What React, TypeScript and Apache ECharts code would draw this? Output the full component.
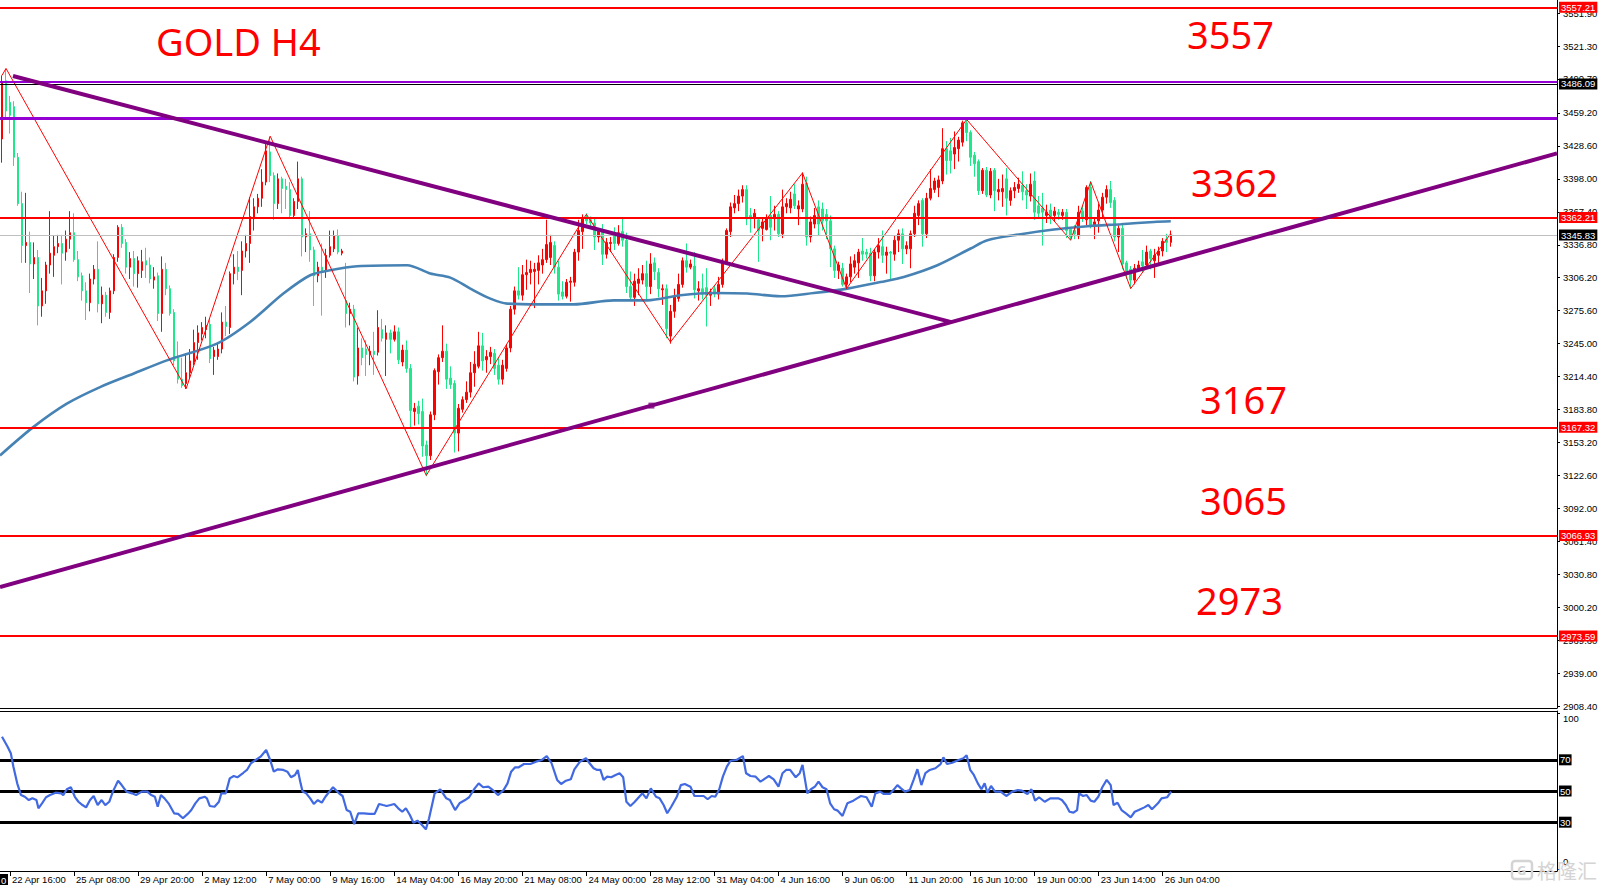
import React, { useEffect, useRef } from "react";
import * as echarts from "echarts";

// ---------- DATA ----------
// H4 bars, index 0..292 (4 px per bar). Bullish candles red, bearish green (as in the source chart).
const opens = [
  3435, 3489, 3469, 3465, 3418, 3375, 3336, 3339, 3319, 3325,
  3280, 3294, 3318, 3327, 3335, 3338, 3330, 3342, 3348, 3323,
  3308, 3294, 3283, 3305, 3314, 3282, 3290, 3274, 3294, 3325,
  3353, 3339, 3316, 3324, 3310, 3313, 3322, 3318, 3304, 3308,
  3273, 3314, 3296, 3274, 3232, 3212, 3208, 3218, 3228, 3246,
  3254, 3258, 3263, 3233, 3233, 3240, 3265, 3260, 3310, 3316,
  3313, 3331, 3338, 3361, 3372, 3380, 3395, 3423, 3401, 3375,
  3398, 3391, 3388, 3364, 3377, 3398, 3344, 3347, 3332, 3308,
  3316, 3312, 3327, 3333, 3345, 3329, 3285, 3273, 3277, 3215,
  3241, 3240, 3235, 3238, 3237, 3258, 3249, 3255, 3249, 3256,
  3228, 3239, 3222, 3182, 3187, 3182, 3151, 3141, 3179, 3219,
  3232, 3238, 3213, 3208, 3162, 3184, 3193, 3200, 3218, 3224,
  3243, 3230, 3233, 3236, 3225, 3212, 3222, 3241, 3277, 3294,
  3290, 3309, 3311, 3312, 3313, 3318, 3323, 3325, 3336, 3316,
  3293, 3289, 3302, 3302, 3330, 3349, 3362, 3360, 3357, 3344,
  3349, 3328, 3338, 3347, 3338, 3349, 3341, 3298, 3288, 3301,
  3304, 3310, 3298, 3320, 3311, 3295, 3296, 3252, 3275, 3287,
  3300, 3322, 3316, 3317, 3294, 3296, 3297, 3290, 3296, 3291,
  3300, 3321, 3349, 3371, 3375, 3382, 3388, 3364, 3362, 3360,
  3352, 3351, 3364, 3361, 3365, 3347, 3372, 3371, 3384, 3370,
  3370, 3394, 3344, 3356, 3372, 3370, 3365, 3359, 3333, 3313,
  3315, 3300, 3307, 3316, 3320, 3331, 3330, 3329, 3308, 3330,
  3335, 3327, 3330, 3328, 3341, 3347, 3333, 3333, 3347, 3364,
  3378, 3347, 3380, 3388, 3390, 3396, 3426, 3424, 3421, 3426,
  3432, 3450, 3441, 3420, 3414, 3387, 3406, 3383, 3406, 3386,
  3386, 3398, 3378, 3387, 3389, 3392, 3387, 3382, 3396, 3373,
  3371, 3364, 3369, 3364, 3367, 3364, 3367, 3351, 3350, 3345,
  3368, 3360, 3390, 3355, 3359, 3369, 3381, 3388, 3378, 3344,
  3352, 3320, 3314, 3304, 3315, 3321, 3318, 3331, 3322, 3327,
  3331, 3342, 3339,
];
const closes = [
  3488, 3461, 3457, 3418, 3375, 3336, 3339, 3319, 3325, 3280,
  3294, 3318, 3329, 3335, 3338, 3329, 3342, 3348, 3323, 3307,
  3294, 3283, 3305, 3314, 3282, 3290, 3274, 3294, 3325, 3353,
  3338, 3316, 3324, 3310, 3322, 3321, 3318, 3305, 3307, 3273,
  3314, 3296, 3273, 3229, 3212, 3206, 3218, 3229, 3246, 3255,
  3260, 3262, 3231, 3239, 3240, 3265, 3261, 3310, 3316, 3312,
  3331, 3338, 3363, 3372, 3380, 3395, 3424, 3401, 3375, 3398,
  3389, 3388, 3364, 3377, 3398, 3344, 3347, 3332, 3308, 3316,
  3312, 3327, 3335, 3345, 3330, 3331, 3273, 3277, 3214, 3241,
  3232, 3235, 3238, 3235, 3260, 3250, 3255, 3249, 3256, 3230,
  3239, 3222, 3183, 3185, 3180, 3150, 3141, 3179, 3220, 3232,
  3238, 3212, 3207, 3162, 3185, 3193, 3200, 3218, 3226, 3243,
  3229, 3233, 3237, 3222, 3212, 3225, 3241, 3277, 3294, 3290,
  3309, 3311, 3314, 3314, 3320, 3323, 3337, 3339, 3316, 3291,
  3289, 3302, 3303, 3330, 3350, 3361, 3359, 3357, 3344, 3349,
  3328, 3339, 3339, 3338, 3348, 3341, 3298, 3288, 3303, 3305,
  3310, 3298, 3319, 3312, 3296, 3296, 3259, 3275, 3289, 3300,
  3322, 3316, 3319, 3295, 3296, 3291, 3290, 3293, 3291, 3300,
  3321, 3350, 3372, 3375, 3382, 3388, 3361, 3361, 3366, 3350,
  3358, 3362, 3353, 3365, 3347, 3372, 3375, 3379, 3373, 3373,
  3393, 3344, 3358, 3364, 3356, 3359, 3359, 3333, 3313, 3318,
  3300, 3307, 3319, 3322, 3330, 3328, 3328, 3308, 3330, 3336,
  3327, 3330, 3329, 3341, 3347, 3333, 3336, 3347, 3366, 3375,
  3347, 3380, 3389, 3396, 3397, 3426, 3415, 3415, 3427, 3434,
  3450, 3441, 3418, 3412, 3387, 3406, 3383, 3405, 3387, 3388,
  3389, 3380, 3387, 3390, 3393, 3386, 3383, 3393, 3367, 3366,
  3367, 3367, 3361, 3368, 3365, 3367, 3350, 3344, 3347, 3367,
  3362, 3390, 3355, 3358, 3369, 3381, 3388, 3376, 3344, 3352,
  3319, 3312, 3304, 3315, 3318, 3317, 3330, 3324, 3327, 3331,
  3340, 3339, 3346,
];
const lows = [
  3413, 3455, 3440, 3410, 3373, 3320, 3320, 3292, 3305, 3262,
  3270, 3282, 3310, 3307, 3329, 3300, 3322, 3333, 3321, 3303,
  3285, 3267, 3275, 3300, 3274, 3264, 3270, 3268, 3291, 3321,
  3334, 3310, 3305, 3298, 3297, 3306, 3306, 3301, 3296, 3266,
  3256, 3290, 3271, 3225, 3208, 3204, 3203, 3212, 3225, 3230,
  3248, 3250, 3227, 3216, 3230, 3236, 3252, 3254, 3300, 3304,
  3290, 3325, 3320, 3350, 3366, 3372, 3392, 3395, 3360, 3370,
  3366, 3370, 3362, 3362, 3370, 3326, 3330, 3321, 3280, 3302,
  3271, 3306, 3325, 3330, 3328, 3327, 3260, 3262, 3210, 3207,
  3225, 3215, 3225, 3216, 3234, 3247, 3215, 3236, 3247, 3226,
  3224, 3218, 3166, 3169, 3170, 3140, 3122, 3137, 3174, 3207,
  3228, 3203, 3203, 3144, 3145, 3181, 3190, 3195, 3205, 3222,
  3220, 3218, 3226, 3216, 3207, 3207, 3219, 3237, 3272, 3286,
  3285, 3295, 3300, 3278, 3300, 3310, 3320, 3318, 3310, 3285,
  3286, 3287, 3284, 3298, 3322, 3333, 3356, 3354, 3332, 3339,
  3318, 3324, 3330, 3332, 3336, 3335, 3292, 3285, 3280, 3290,
  3300, 3286, 3291, 3304, 3288, 3281, 3250, 3245, 3269, 3284,
  3297, 3311, 3314, 3287, 3285, 3286, 3261, 3280, 3288, 3286,
  3297, 3318, 3344, 3366, 3368, 3376, 3355, 3348, 3352, 3321,
  3340, 3350, 3341, 3350, 3344, 3343, 3366, 3366, 3370, 3355,
  3367, 3336, 3339, 3352, 3345, 3350, 3342, 3316, 3306, 3305,
  3298, 3296, 3302, 3310, 3306, 3322, 3324, 3303, 3303, 3324,
  3320, 3310, 3304, 3322, 3330, 3319, 3328, 3315, 3344, 3355,
  3335, 3343, 3378, 3385, 3381, 3393, 3402, 3403, 3407, 3414,
  3428, 3433, 3410, 3400, 3383, 3384, 3381, 3380, 3368, 3378,
  3372, 3364, 3373, 3380, 3385, 3378, 3370, 3377, 3360, 3362,
  3336, 3357, 3356, 3358, 3360, 3360, 3343, 3341, 3342, 3342,
  3358, 3355, 3352, 3342, 3348, 3362, 3375, 3371, 3340, 3330,
  3314, 3305, 3296, 3300, 3312, 3311, 3315, 3314, 3306, 3320,
  3326, 3330, 3335,
];
const highs = [
  3494, 3500, 3475, 3470, 3422, 3386, 3385, 3349, 3339, 3332,
  3306, 3321, 3368, 3345, 3346, 3346, 3350, 3368, 3366, 3331,
  3311, 3302, 3310, 3318, 3340, 3298, 3293, 3297, 3328, 3355,
  3356, 3342, 3330, 3331, 3326, 3332, 3334, 3325, 3316, 3311,
  3326, 3320, 3299, 3277, 3247, 3232, 3236, 3240, 3258, 3262,
  3265, 3270, 3268, 3242, 3245, 3274, 3280, 3312, 3328, 3331,
  3340, 3346, 3381, 3380, 3384, 3407, 3433, 3437, 3404, 3403,
  3400, 3398, 3395, 3380, 3414, 3400, 3352, 3368, 3335, 3321,
  3338, 3333, 3350, 3350, 3351, 3333, 3320, 3283, 3281, 3260,
  3250, 3248, 3243, 3256, 3276, 3268, 3262, 3258, 3262, 3260,
  3244, 3248, 3226, 3190, 3192, 3194, 3155, 3182, 3222, 3235,
  3262, 3245, 3224, 3211, 3189, 3196, 3210, 3228, 3238, 3256,
  3255, 3239, 3242, 3240, 3232, 3230, 3244, 3280, 3298, 3316,
  3318, 3323, 3322, 3320, 3327, 3333, 3360, 3346, 3340, 3322,
  3303, 3305, 3307, 3333, 3360, 3365, 3366, 3363, 3362, 3352,
  3356, 3343, 3344, 3353, 3355, 3362, 3348, 3312, 3310, 3315,
  3318, 3322, 3329, 3325, 3315, 3300, 3300, 3281, 3296, 3310,
  3325, 3338, 3323, 3330, 3303, 3310, 3315, 3296, 3299, 3307,
  3324, 3352, 3376, 3383, 3388, 3392, 3392, 3371, 3370, 3362,
  3362, 3365, 3382, 3373, 3368, 3388, 3380, 3386, 3393, 3378,
  3404, 3400, 3363, 3371, 3378, 3376, 3370, 3364, 3336, 3321,
  3320, 3310, 3326, 3328, 3333, 3343, 3333, 3334, 3333, 3343,
  3350, 3335, 3331, 3345, 3351, 3352, 3340, 3350, 3373, 3378,
  3380, 3385, 3407, 3399, 3401, 3445, 3433, 3436, 3442, 3437,
  3452, 3454, 3443, 3423, 3416, 3408, 3409, 3408, 3408, 3398,
  3402, 3408, 3390, 3395, 3399, 3405, 3393, 3403, 3405, 3382,
  3385, 3374, 3375, 3372, 3370, 3370, 3370, 3353, 3355, 3373,
  3373, 3392, 3396, 3362, 3375, 3385, 3392, 3396, 3381, 3356,
  3356, 3322, 3317, 3319, 3322, 3332, 3336, 3333, 3333, 3335,
  3343, 3347, 3350,
];

// Moving average: [bar index, price]
const maPoints = [
  [-0.5, 3141.2], [7.8, 3167.5], [16.2, 3189.3], [24.5, 3204.7], [32.8, 3217.1],
  [41.2, 3229.5], [53.7, 3245.0], [62, 3265.1], [70.3, 3291.5], [77, 3308.5],
  [82, 3313.1], [88.7, 3316.8], [101.2, 3317.8], [107, 3310.1], [112, 3306.3],
  [117, 3296.1], [122, 3286.8], [126.2, 3282.2], [134.5, 3281.5], [142.8, 3281.5],
  [152.8, 3285.2], [161.2, 3285.2], [169.5, 3289.9], [177.8, 3292.0], [186.2, 3291.5],
  [194.5, 3289.0], [202.8, 3292.0], [211.2, 3296.1], [219.5, 3302.2], [225.3, 3306.9],
  [233.7, 3317.8], [242, 3333.3], [246.2, 3341.0], [254.5, 3346.6], [262.8, 3350.9],
  [271.2, 3354.0], [279.5, 3355.9], [287.8, 3358.0], [292, 3358.6],
];

// ZigZag vertices: [bar index, price]
const zigzag = [
  [0, 3494], [1, 3500.5], [46, 3203.2], [67, 3437.6], [106, 3122.7], [146, 3365.1],
  [167, 3246.5], [200, 3403.5], [211, 3296.1], [241, 3453.1], [267, 3341.0],
  [272, 3395.2], [282, 3296.1], [292, 3347.2],
];

// Trend lines: [bar index, price]
const downTrend = [[2.75, 3493.4], [237.2, 3265.0]];
const upTrend = [[-0.5, 3019.1], [388.5, 3421.6]];
const upTrendAnchor = [[162.25, 3187.5]];

// RSI: [bar index, value]
const rsiPoints = [
  [0, 84.8], [1.4, 78.4], [2.2, 74.2], [2.85, 65.6], [3.8, 54.9], [4.75, 47.4], [5.7, 46.3], [6.7, 44.2],
  [7.6, 45.3], [8.6, 44.2], [9.1, 38.9], [10, 42.1], [11, 46.0], [12, 47.4], [13.4, 48.9], [14.8, 48.5],
  [15.3, 47.4], [16.2, 51.1], [17.2, 52.4], [18.2, 46.3], [19.1, 43.1], [20.1, 41.0], [21, 39.5], [22, 44.2],
  [22.9, 46.8], [23.9, 41.0], [24.9, 44.2], [25.8, 41.0], [26.8, 43.1], [27.7, 49.6], [29, 56.6], [29.9, 53.8],
  [31.1, 49.6], [32.5, 48.5], [33.5, 47.4], [34.9, 49.6], [36.3, 49.6], [37.3, 47.4], [38.2, 46.3], [38.9, 39.9],
  [39.7, 47.4], [40.6, 45.3], [41.6, 42.1], [43, 35.7], [44, 35.3], [45.2, 32.5], [46.4, 35.3], [47.3, 37.8],
  [48.3, 42.1], [49.3, 45.3], [50.7, 46.3], [51.2, 45.3], [51.9, 40.4], [53.1, 39.9], [54.2, 43.1], [54.8, 48.5],
  [55.9, 48.5], [56.9, 58.1], [57.9, 59.6], [58.8, 58.8], [60.3, 61.7], [61.2, 63.5], [62.2, 67.8], [63.1, 69.4],
  [64.6, 72.0], [66, 76.3], [67, 69.9], [67.9, 62.4], [68.9, 63.9], [70.3, 63.5], [71.3, 62.4], [72.2, 58.8],
  [73.2, 60.3], [73.9, 63.5], [74.6, 54.9], [75.1, 49.6], [76, 48.5], [77, 45.3], [77.9, 41.7], [78.9, 44.2],
  [79.9, 42.5], [80.8, 46.3], [81.8, 49.6], [82.7, 52.4], [84.2, 48.5], [85.1, 46.8], [86.1, 37.8], [87, 36.7],
  [88, 28.8], [89, 35.7], [90.4, 35.7], [91.8, 35.3], [93.1, 35.3], [94.2, 41.7], [95.2, 41.0], [96.1, 40.4],
  [97.1, 41.0], [98, 41.7], [99, 38.9], [100, 36.7], [100.9, 38.9], [101.9, 34.6], [102.8, 29.7], [103.8, 31.0],
  [104.7, 28.8], [105.9, 25.4], [106.7, 32.5], [108.1, 48.5], [109.5, 51.1], [111, 45.3], [111.9, 44.2], [113.2, 37.8],
  [114.3, 42.1], [115.7, 44.2], [116.7, 46.0], [118.1, 51.7], [119.1, 54.9], [120.2, 52.4], [121.5, 52.8], [122.4, 51.1],
  [123.9, 47.4], [125.3, 50.6], [126.3, 54.9], [127.2, 62.4], [128.2, 65.2], [129.1, 65.2], [130.4, 67.3], [132, 67.3],
  [133.4, 68.8], [134.9, 69.9], [136.1, 72.4], [137.3, 67.8], [138.7, 57.1], [139.7, 54.5], [140.9, 56.6], [142.1, 57.5],
  [143, 63.9], [144.4, 68.8], [145.9, 71.0], [146.8, 67.8], [147.8, 64.6], [148.7, 63.5], [149.5, 63.5], [150.3, 57.1],
  [151.2, 59.2], [152.2, 58.8], [153.3, 60.3], [154.3, 61.4], [155.2, 58.8], [156, 43.1], [157, 40.4], [158.1, 43.1],
  [159.1, 46.0], [160, 48.5], [161, 45.3], [162.1, 51.7], [163.4, 46.3], [164.3, 45.3], [165.3, 41.0], [166.2, 35.7],
  [167.2, 39.9], [168.6, 46.3], [169.6, 53.8], [170.6, 54.5], [172, 52.8], [173, 46.8], [173.9, 46.8], [175.3, 46.8],
  [176.3, 44.7], [177.3, 46.8], [178.2, 46.3], [179.2, 51.1], [180.1, 59.2], [181.1, 65.6], [182, 69.4], [183.5, 69.9],
  [185.1, 72.4], [185.9, 61.4], [187, 59.6], [188.3, 59.2], [189.5, 56.0], [190.7, 58.1], [191.6, 59.6], [192.8, 57.5],
  [194, 52.8], [195, 61.4], [195.9, 63.5], [196.9, 63.5], [198.3, 58.8], [199.3, 61.4], [200, 66.7], [201.2, 48.5],
  [202.1, 51.1], [203.1, 52.8], [204, 56.0], [205, 52.4], [206, 51.1], [206.9, 42.1], [207.9, 38.3], [208.8, 37.4],
  [210, 34.0], [211.2, 42.1], [212.7, 43.8], [213.6, 45.3], [214.6, 46.8], [216, 46.0], [217.3, 39.9], [218.2, 48.5],
  [219.4, 49.6], [220.3, 48.1], [221.8, 48.1], [222.7, 50.6], [223.7, 53.8], [224.6, 51.7], [225.6, 49.6], [226.8, 50.6],
  [227.8, 57.5], [228.7, 64.0], [229.7, 53.8], [230.7, 61.4], [231.8, 63.5], [233.2, 64.6], [234.5, 67.3], [235.2, 71.6],
  [236.1, 67.3], [237.4, 68.1], [239, 69.9], [240.2, 71.0], [241, 72.9], [241.9, 63.5], [242.8, 60.3], [243.8, 54.9],
  [244.7, 51.1], [245.5, 54.9], [246.2, 48.9], [247.1, 53.2], [248.1, 49.6], [249.5, 49.6], [250.9, 46.8], [252.4, 49.6],
  [253.8, 50.6], [254.8, 50.2], [256.2, 48.1], [257.2, 51.1], [258.1, 43.8], [259.1, 46.0], [260.5, 43.1], [261.9, 45.3],
  [263.9, 45.3], [264.8, 44.2], [265.8, 41.0], [266.7, 36.7], [267.7, 36.1], [268.6, 37.8], [269.1, 48.5], [270.1, 46.8],
  [271, 47.4], [272, 43.8], [272.9, 43.1], [273.9, 46.3], [274.9, 52.4], [276, 57.1], [277, 53.8], [277.7, 41.0],
  [278.7, 42.5], [279.7, 37.8], [280.8, 35.7], [282, 33.1], [283, 36.7], [284, 37.8], [285.4, 39.5], [286.4, 41.0],
  [287.3, 38.3], [288.8, 42.1], [289.7, 45.3], [291.1, 46.0], [292.1, 49.6],
];

// Axis tick labels
const priceTicks = [
  2908.4, 2939.0, 2969.6, 3000.2, 3030.8, 3061.4, 3092.0, 3122.6, 3153.2, 3183.8, 3214.4,
  3245.0, 3275.6, 3306.2, 3336.8, 3367.4, 3398.0, 3428.6, 3459.2, 3490.7, 3521.3, 3551.9,
];
const xTickBars = [2, 18, 34, 50, 66, 82, 98, 114, 130, 146, 162, 178, 194, 210, 226, 242, 258, 274, 290];
const xTickLabels = [
  "22 Apr 16:00", "25 Apr 08:00", "29 Apr 20:00", "2 May 12:00", "7 May 00:00", "9 May 16:00",
  "14 May 04:00", "16 May 20:00", "21 May 08:00", "24 May 00:00", "28 May 12:00", "31 May 04:00",
  "4 Jun 16:00", "9 Jun 06:00", "11 Jun 20:00", "16 Jun 10:00", "19 Jun 00:00", "23 Jun 14:00", "26 Jun 04:00",
];
const rsiTicks = [0, 100];
const rsiLevels = [70, 50, 30];

// Horizontal levels
const redLevels = [3557.21, 3362.21, 3167.32, 3066.93, 2973.59];
const blackLevel = 3486.09;
const currentPrice = 3345.83;
const purpleLevels = [3488.3, 3454.6];
const levelTexts = ["3557", "3362", "3167", "3065", "2973"];
const titleText = "GOLD H4";

// ---------- CHART ----------
const X_MIN = -0.5;
const X_MAX = 388.5;
const P_MIN = 2906.8;
const P_MAX = 3564.0;
const UP = "#FF0000";
const DOWN = "#1DE88A";
const AXIS_FONT = "Liberation Sans";

export default function App() {
  const ref = useRef<HTMLDivElement>(null);

  useEffect(() => {
    if (!ref.current) return;
    const chart = echarts.init(ref.current, null, { renderer: "svg" });

    const candles = opens.map((o, i) => [i, o, closes[i], lows[i], highs[i]]);

    const lineLabel = (bg: string) => ({
      show: true,
      position: "end",
      distance: 2,
      color: "#fff",
      backgroundColor: bg,
      fontFamily: AXIS_FONT,
      fontSize: 9.5,
      padding: [1, 2, 0, 2],
      formatter: (p: any) => Number(p.value).toFixed(2),
    });

    const priceMarks: any[] = [];
    purpleLevels.forEach((v, k) =>
      priceMarks.push({
        yAxis: v,
        lineStyle: { color: "#9400D3", width: k === 0 ? 2 : 3, type: "solid" },
        label: { show: false },
      })
    );
    priceMarks.push({
      yAxis: blackLevel,
      lineStyle: { color: "#000", width: 1.2, type: "solid" },
      label: lineLabel("#000"),
    });
    priceMarks.push({
      yAxis: currentPrice,
      lineStyle: { color: "#C0C0C0", width: 1, type: "solid" },
      label: lineLabel("#000"),
    });
    redLevels.forEach((v) =>
      priceMarks.push({
        yAxis: v,
        lineStyle: { color: "#FF0000", width: 2, type: "solid" },
        label: lineLabel("#FF0000"),
      })
    );

    const textPos = [
      [1187, 34],
      [1191, 182],
      [1200, 399],
      [1200, 500],
      [1196, 600],
    ];

    const graphics: any[] = [
      {
        type: "text",
        x: 156,
        y: 41,
        z: 100,
        style: {
          text: titleText,
          fill: "#FF0000",
          fontSize: 38,
          fontFamily: "Noto Sans",
          verticalAlign: "middle",
        },
      },
      ...levelTexts.map((t, i) => ({
        type: "text",
        x: textPos[i][0],
        y: textPos[i][1],
        z: 100,
        style: {
          text: t,
          fill: "#FF0000",
          fontSize: 38,
          fontFamily: "Noto Sans",
          verticalAlign: "middle",
        },
      })),
      {
        type: "rect",
        shape: { x: 0, y: 874, width: 8, height: 11 },
        style: { fill: "#000" },
        z: 100,
      },
      {
        type: "text",
        x: 1,
        y: 880,
        z: 101,
        style: { text: "0", fill: "#fff", fontSize: 9.5, fontFamily: AXIS_FONT, verticalAlign: "middle" },
      },
      {
        type: "rect",
        shape: { x: 1512, y: 861, width: 20, height: 18, r: 3 },
        style: { fill: "none", stroke: "#d4d4d4", lineWidth: 2.5 },
        z: 100,
      },
      {
        type: "text",
        x: 1517,
        y: 870,
        z: 100,
        style: { text: "G", fill: "#d4d4d4", fontSize: 13, fontWeight: "bold", fontFamily: "Noto Sans", verticalAlign: "middle" },
      },
      {
        type: "text",
        x: 1537,
        y: 870,
        z: 100,
        style: {
          text: "格隆汇",
          fill: "#d4d4d4",
          fontSize: 20,
          fontFamily: "Noto Sans CJK SC",
          verticalAlign: "middle",
        },
      },
    ];

    const option: any = {
      animation: false,
      backgroundColor: "#ffffff",
      grid: [
        { left: 0, top: 0, width: 1557, height: 708 },
        { left: 0, top: 711, width: 1557, height: 160 },
      ],
      xAxis: [
        {
          type: "value",
          gridIndex: 0,
          min: X_MIN,
          max: X_MAX,
          axisLine: { show: true, onZero: false, lineStyle: { color: "#000", width: 1 } },
          axisTick: { show: false },
          axisLabel: { show: false },
          splitLine: { show: false },
        },
        {
          type: "value",
          gridIndex: 1,
          min: X_MIN,
          max: X_MAX,
          position: "bottom",
          axisLine: { show: true, onZero: false, lineStyle: { color: "#000", width: 1 } },
          axisTick: { show: true, customValues: xTickBars, length: 5, lineStyle: { color: "#000" } },
          axisLabel: {
            show: true,
            customValues: xTickBars,
            formatter: (v: number) => xTickLabels[xTickBars.indexOf(v)] ?? "",
            align: "left",
            padding: [0, 0, 0, 2],
            margin: 3,
            color: "#000",
            fontFamily: AXIS_FONT,
            fontSize: 9.5,
          },
          splitLine: { show: false },
        },
        {
          type: "value",
          gridIndex: 1,
          min: X_MIN,
          max: X_MAX,
          position: "top",
          axisLine: { show: true, onZero: false, lineStyle: { color: "#000", width: 1 } },
          axisTick: { show: false },
          axisLabel: { show: false },
          splitLine: { show: false },
        },
      ],
      yAxis: [
        {
          type: "value",
          gridIndex: 0,
          min: P_MIN,
          max: P_MAX,
          position: "right",
          axisLine: { show: true, onZero: false, lineStyle: { color: "#000", width: 1 } },
          axisTick: { show: true, customValues: priceTicks, length: 3, lineStyle: { color: "#000" } },
          axisLabel: {
            show: true,
            customValues: priceTicks,
            formatter: (v: number) => v.toFixed(2),
            margin: 6,
            color: "#000",
            fontFamily: AXIS_FONT,
            fontSize: 9.5,
          },
          splitLine: { show: false },
        },
        {
          type: "value",
          gridIndex: 1,
          min: -1.3,
          max: 101.3,
          position: "right",
          axisLine: { show: true, onZero: false, lineStyle: { color: "#000", width: 1 } },
          axisTick: { show: true, customValues: rsiTicks, length: 3, lineStyle: { color: "#000" } },
          axisLabel: {
            show: true,
            customValues: rsiTicks,
            formatter: (v: number) => (v >= 100 ? "{t|" + v + "}" : "{b|" + v + "}"),
            margin: 6,
            rich: {
              t: { color: "#000", fontFamily: AXIS_FONT, fontSize: 9.5, padding: [10, 0, 0, 0] },
              b: { color: "#000", fontFamily: AXIS_FONT, fontSize: 9.5, padding: [0, 0, 14, 0] },
            },
          },
          splitLine: { show: false },
        },
      ],
      series: [
        {
          type: "candlestick",
          xAxisIndex: 0,
          yAxisIndex: 0,
          data: candles,
          encode: { x: 0, y: [1, 2, 3, 4] },
          barWidth: 2,
          z: 2,
          itemStyle: {
            color: UP,
            color0: DOWN,
            borderColor: UP,
            borderColor0: DOWN,
            borderWidth: 1,
          },
          markLine: {
            symbol: ["none", "none"],
            silent: true,
            animation: false,
            z: 5,
            data: priceMarks,
          },
        },
        {
          type: "line",
          name: "MA",
          xAxisIndex: 0,
          yAxisIndex: 0,
          data: maPoints,
          showSymbol: false,
          smooth: 0.3,
          z: 3,
          lineStyle: { color: "#4682B4", width: 2.6 },
        },
        {
          type: "line",
          name: "ZigZag",
          xAxisIndex: 0,
          yAxisIndex: 0,
          data: zigzag,
          showSymbol: false,
          z: 4,
          lineStyle: { color: "#FF0000", width: 1 },
        },
        {
          type: "line",
          name: "DownTrend",
          xAxisIndex: 0,
          yAxisIndex: 0,
          data: downTrend,
          showSymbol: false,
          z: 6,
          lineStyle: { color: "#800080", width: 4 },
        },
        {
          type: "line",
          name: "UpTrend",
          xAxisIndex: 0,
          yAxisIndex: 0,
          data: upTrend,
          showSymbol: false,
          z: 6,
          lineStyle: { color: "#800080", width: 4 },
        },
        {
          type: "scatter",
          xAxisIndex: 0,
          yAxisIndex: 0,
          data: upTrendAnchor,
          symbol: "rect",
          symbolSize: 6,
          z: 7,
          itemStyle: { color: "#800080" },
        },
        {
          type: "line",
          name: "RSI",
          xAxisIndex: 1,
          yAxisIndex: 1,
          data: rsiPoints,
          showSymbol: false,
          z: 4,
          lineStyle: { color: "#4169E1", width: 2.2 },
          markLine: {
            symbol: ["none", "none"],
            silent: true,
            animation: false,
            z: 3,
            lineStyle: { color: "#000", width: 3, type: "solid" },
            label: {
              show: true,
              position: "end",
              distance: 2,
              color: "#fff",
              backgroundColor: "#000",
              fontFamily: AXIS_FONT,
              fontSize: 9.5,
              padding: [1, 1, 0, 1],
              formatter: (p: any) => String(p.value),
            },
            data: rsiLevels.map((v) => ({ yAxis: v })),
          },
        },
      ],
      graphic: graphics,
    };

    chart.setOption(option);
    return () => chart.dispose();
  }, []);

  return (
    <div
      ref={ref}
      style={{ position: "fixed", left: 0, top: 0, width: 1605, height: 890, background: "#ffffff" }}
    />
  );
}
